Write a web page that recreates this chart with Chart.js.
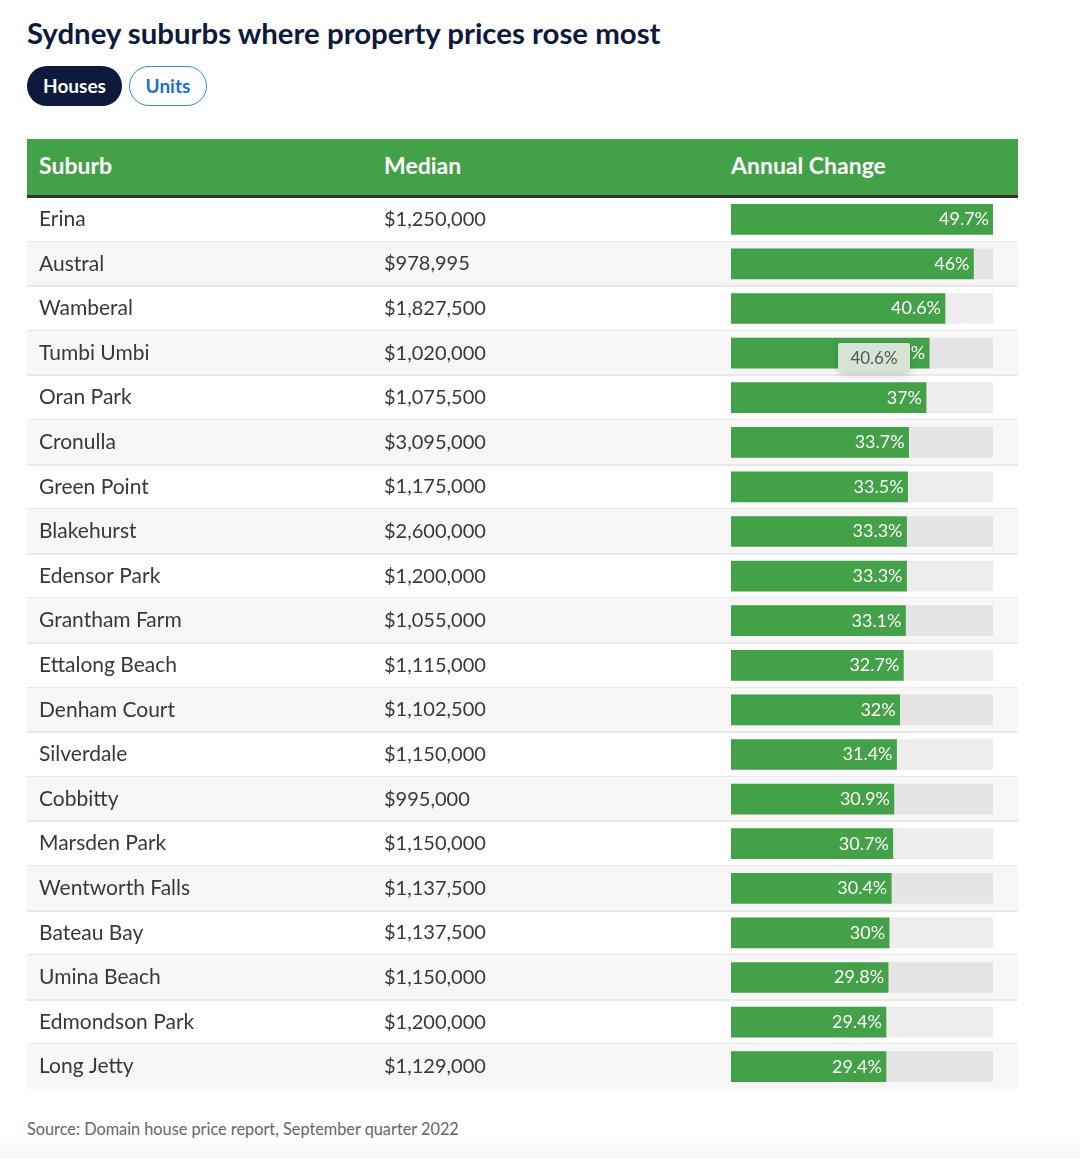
<!DOCTYPE html>
<html>
<head>
<meta charset="utf-8">
<title>Sydney suburbs where property prices rose most</title>
<script src="https://cdn.jsdelivr.net/npm/chart.js@4"></script>
<style>
	html, body { margin: 0; padding: 0; background: #fff; }
	body { position: relative; width: 1080px; height: 1158px; overflow: hidden; font-family: Lato, sans-serif; }
	.abs { position: absolute; white-space: nowrap; }
	#title { left: 27px; top: 13px; font-size: 29.4px; line-height: 40px; font-weight: 700; color: #0c1a3c; }
	.pill { top: 66px; height: 40px; line-height: 40px; border-radius: 20px; text-align: center; font-size: 19px; font-weight: 700; box-sizing: border-box; }
	#houses { left: 27px; width: 95px; background: #0c1a3c; color: #fff; }
	#units { left: 129px; width: 78px; border: 1.5px solid #3b86de; line-height: 37px; color: #1b6fd5; }
	#head { left: 27px; top: 139px; width: 991px; height: 56px; background: #43a148; border-bottom: 3px solid #333; }
	.th { top: 145px; line-height: 40px; font-size: 23px; font-weight: 700; color: #fff; }
	#chartBox { left: 27px; top: 197px; }
	#tip { left: 838px; top: 343px; width: 72px; height: 29px; line-height: 29px; text-align: center; font-size: 17px; color: #555; background: #d5e4d4; border-radius: 2px; box-shadow: 0 3px 8px rgba(0,0,0,.18); }
	#source { left: 27px; top: 1118px; line-height: 22px; font-size: 16.3px; color: #666; }
	#fade { left: 0; top: 1138px; width: 1080px; height: 20px; background: linear-gradient(#fff, #f7f7f7); }
</style>
</head>
<body>
<div class="abs" id="title">Sydney suburbs where property prices rose most</div>
<div class="abs pill" id="houses">Houses</div>
<div class="abs pill" id="units">Units</div>
<div class="abs" id="head"></div>
<div class="abs th" style="left:39px">Suburb</div>
<div class="abs th" style="left:384px">Median</div>
<div class="abs th" style="left:731px">Annual Change</div>
<div class="abs" id="chartBox"><canvas id="annualChange" width="991" height="892"></canvas></div>
<div class="abs" id="tip">40.6%</div>
<div class="abs" id="fade"></div>
<div class="abs" id="source">Source: Domain house price report, September quarter 2022</div>

<script>
var suburbs = [ 'Erina', 'Austral', 'Wamberal', 'Tumbi Umbi', 'Oran Park',
		'Cronulla', 'Green Point', 'Blakehurst', 'Edensor Park',
		'Grantham Farm', 'Ettalong Beach', 'Denham Court', 'Silverdale',
		'Cobbitty', 'Marsden Park', 'Wentworth Falls', 'Bateau Bay',
		'Umina Beach', 'Edmondson Park', 'Long Jetty' ];

var medians = [ '$1,250,000', '$978,995', '$1,827,500', '$1,020,000',
		'$1,075,500', '$3,095,000', '$1,175,000', '$2,600,000', '$1,200,000',
		'$1,055,000', '$1,115,000', '$1,102,500', '$1,150,000', '$995,000',
		'$1,150,000', '$1,137,500', '$1,137,500', '$1,150,000', '$1,200,000',
		'$1,129,000' ];

var annualChange = [ 49.7, 46, 40.6, 37.6, 37, 33.7, 33.5, 33.3, 33.3, 33.1,
		32.7, 32, 31.4, 30.9, 30.7, 30.4, 30, 29.8, 29.4, 29.4 ];

var trackValue = 49.7;

// row stripes and separators go behind the whole table
var rowPlugin = {
	id : 'rows',
	beforeDraw : function(c) {
		var ctx = c.ctx, scale = c.scales.y;
		var rowHeight = scale.height / suburbs.length;
		ctx.save();
		suburbs.forEach(function(name, i) {
			var top = Math.round(scale.getPixelForTick(i) - rowHeight / 2);
			var bottom = Math.round(scale.getPixelForTick(i) + rowHeight / 2);
			if (i % 2 == 1) {
				ctx.fillStyle = '#f7f7f7';
				ctx.fillRect(0, top, c.width, bottom - top);
			}
			if (i < suburbs.length - 1) {
				ctx.fillStyle = '#e9e9e9';
				ctx.fillRect(0, bottom - 1, c.width, 2);
			}
		});
		ctx.restore();
	}
};

// value printed inside the end of each bar
var valuePlugin = {
	id : 'values',
	afterDatasetsDraw : function(c) {
		var ctx = c.ctx, bars = c.getDatasetMeta(0).data;
		ctx.save();
		ctx.fillStyle = '#fff';
		ctx.font = '18px Lato';
		ctx.textAlign = 'right';
		ctx.textBaseline = 'middle';
		bars.forEach(function(bar, i) {
			ctx.fillText(annualChange[i] + '%', bar.x - 4, bar.y);
		});
		ctx.restore();
	}
};

// the axes are table columns: fixed width and no overhang at top and bottom
function fitColumn(width) {
	return function(axis) {
		axis.width = width;
		axis.paddingTop = 0;
		axis.paddingBottom = 0;
	};
}

var myChart = new Chart(document.getElementById('annualChange').getContext('2d'), {
	type : 'bar',
	data : {
		labels : suburbs,
		datasets : [ {
			label : 'Annual Change',
			data : annualChange,
			backgroundColor : '#43a148',
			barThickness : 30,
			grouped : false,
			order : 1
		}, {
			label : 'Track',
			data : suburbs.map(function() { return trackValue; }),
			backgroundColor : 'rgba(0,0,0,0.07)',
			barThickness : 30,
			grouped : false,
			order : 2
		} ]
	},
	options : {
		indexAxis : 'y',
		responsive : false,
		animation : false,
		devicePixelRatio : 1,
		layout : { padding : { left : 12, right : 25, top : 0, bottom : 0 } },
		plugins : { legend : { display : false }, tooltip : { enabled : false } },
		scales : {
			x : { display : false, min : 0, max : trackValue },
			y : {
				type : 'category',
				labels : medians,
				position : 'left',
				weight : 1,
				grid : { display : false },
				border : { display : false },
				ticks : { autoSkip : false, crossAlign : 'far', color : '#383838', font : { family : 'Lato', size : 20 } },
				afterFit : fitColumn(347)
			},
			suburb : {
				type : 'category',
				labels : suburbs,
				position : 'left',
				weight : 2,
				grid : { display : false },
				border : { display : false },
				ticks : { autoSkip : false, crossAlign : 'far', color : '#383838', font : { family : 'Lato', size : 21 } },
				afterFit : fitColumn(345)
			}
		}
	},
	plugins : [ rowPlugin, valuePlugin ]
});
</script>
</body>
</html>
